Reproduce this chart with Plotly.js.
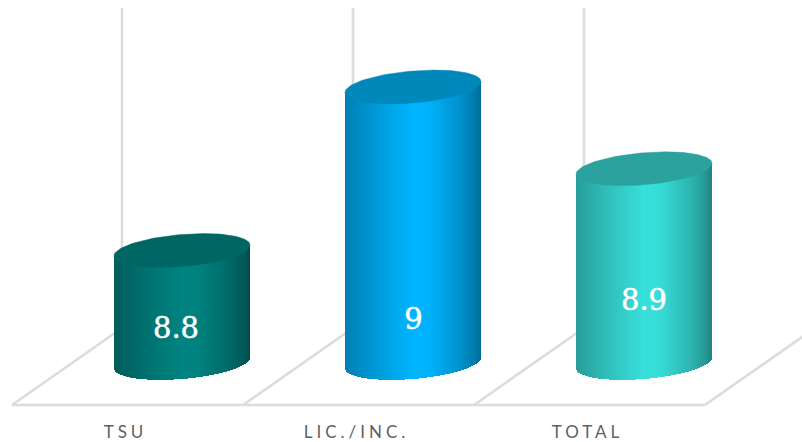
<!DOCTYPE html>
<html><head><meta charset="utf-8">
<script src="https://cdn.plot.ly/plotly-3.0.1.min.js"></script>
<style>html,body{margin:0;padding:0;background:#fff}#c{width:802px;height:442px}</style>
</head><body><div id="c"></div>
<script>
// --- data ---
const categories = ['TSU', 'LIC./INC.', 'TOTAL'];
const values = [8.8, 9, 8.9];
const labels = ['8.8', '9', '8.9'];
const axisBase = 8.6624;

// --- styles ---
const bodyColors = [[0,132,129], [0,181,255], [56,224,219]];
const capColors = ['#006664', '#0088BB', '#2BA29E'];
const gridColor = '#DCDCDC';

// --- layout geometry (pixels) ---
const W = 802, H = 442, bottomMargin = 22;
const plotH = H - bottomMargin;
const pxPerCat = 231, pxPerVal = 817.5;
const firstCatPx = 182, refValPx = 250.5;
const xRange = [-firstCatPx / pxPerCat, (W - firstCatPx) / pxPerCat];
const yRange = [8.8 - (plotH - refValPx) / pxPerVal, 8.8 + refValPx / pxPerVal];
const halfW = 68, minor = 16, tilt = 0.08, tickShift = -56.5;
const labelDrop = [80, 235, 134], labelShift = [-6, 0.5, 0];

const xOf = px => (px - firstCatPx) / pxPerCat;
const yOf = py => yRange[1] - py / pxPerVal;
const shadeStops = [[0,.70],[.12,.78],[.28,.88],[.5,1],[.62,.98],[.85,.80],[.95,.68],[1,.58]];
function shade(t){
  for (let i = 1; i < shadeStops.length; i++) {
    if (t <= shadeStops[i][0]) {
      const a = shadeStops[i-1], b = shadeStops[i];
      return a[1] + (b[1]-a[1]) * (t-a[0]) / (b[0]-a[0]);
    }
  }
  return shadeStops[shadeStops.length-1][1];
}
const traces = [];
categories.forEach((cat, i) => {
  const xs = [], bases = [], hs = [], cols = [];
  for (let dx = -halfW + 0.5; dx < halfW; dx += 1) {
    const front = minor * Math.sqrt(Math.max(0, 1 - (dx/halfW)*(dx/halfW)));
    const lift = -tilt * dx;               // pixel offset from tilt (down is positive)
    const lo = axisBase - (lift + front) / pxPerVal;
    const hi = values[i] - lift / pxPerVal;
    xs.push(i + dx / pxPerCat);
    bases.push(lo);
    hs.push(hi - lo);
    const s = shade((dx + halfW) / (2 * halfW));
    cols.push('rgb(' + bodyColors[i].map(c => Math.round(c * s)).join(',') + ')');
  }
  traces.push({type:'bar', x:xs, y:hs, base:bases, width:1.5 / pxPerCat,
    marker:{color:cols, line:{width:0}}, hoverinfo:'skip', showlegend:false});
  const cx = [], cy = [];
  for (let a = 0; a <= 120; a++) {
    const th = a / 120 * 2 * Math.PI, dx = halfW * Math.cos(th);
    cx.push(i + dx / pxPerCat);
    cy.push(values[i] + (tilt * dx + minor * Math.sin(th)) / pxPerVal);
  }
  traces.push({type:'scatter', mode:'lines', x:cx, y:cy, fill:'toself', fillcolor:capColors[i],
    line:{width:0.5, color:capColors[i]}, hoverinfo:'skip', showlegend:false});
});
traces.push({type:'scatter', mode:'text',
  x: values.map((v,i) => i + labelShift[i] / pxPerCat),
  y: values.map((v,i) => v - labelDrop[i] / pxPerVal),
  text: labels, textposition:'middle center',
  textfont:{family:'"DejaVu Serif", serif', size:29, color:'#FFFFFF'},
  hoverinfo:'skip', showlegend:false});

const floorLeftPx = [12, 243, 474, 705];
const backPx = [122, 353, 584, 815];
const shapes = [];
const seg = (x0,y0,x1,y1) => ({type:'line', xref:'x', yref:'y', layer:'below',
  x0:xOf(x0), y0:yOf(y0), x1:xOf(x1), y1:yOf(y1), line:{color:gridColor, width:2.6}});
shapes.push(seg(12,405,705,405));
floorLeftPx.forEach((f,i) => {
  shapes.push(seg(f,405,backPx[i],328));
  if (i < 3) shapes.push(seg(backPx[i],328,backPx[i],8));
});

Plotly.newPlot('c', traces, {
  width:W, height:H, margin:{l:0,r:0,t:0,b:bottomMargin,pad:0},
  paper_bgcolor:'#fff', plot_bgcolor:'#fff', barmode:'overlay', bargap:0, showlegend:false,
  xaxis:{type:'linear', range:xRange, showgrid:false, zeroline:false, showline:false, ticks:'',
    tickmode:'array', tickvals:categories.map((c,i) => i + tickShift / pxPerCat), ticktext:categories,
    tickangle:0, tickfont:{family:'Lato, sans-serif', size:17, color:'#5F5F5F'}, fixedrange:true},
  yaxis:{range:yRange, visible:false, fixedrange:true},
  shapes:shapes
}, {staticPlot:true, displayModeBar:false}).then(() => {
  document.querySelectorAll('#c .xtick text').forEach(t => { t.style.letterSpacing = '4px'; });
  document.querySelectorAll('#c .textpoint text').forEach(t => {
    t.style.stroke = '#FFFFFF'; t.style.strokeWidth = '0.5px';
  });
});
</script></body></html>
